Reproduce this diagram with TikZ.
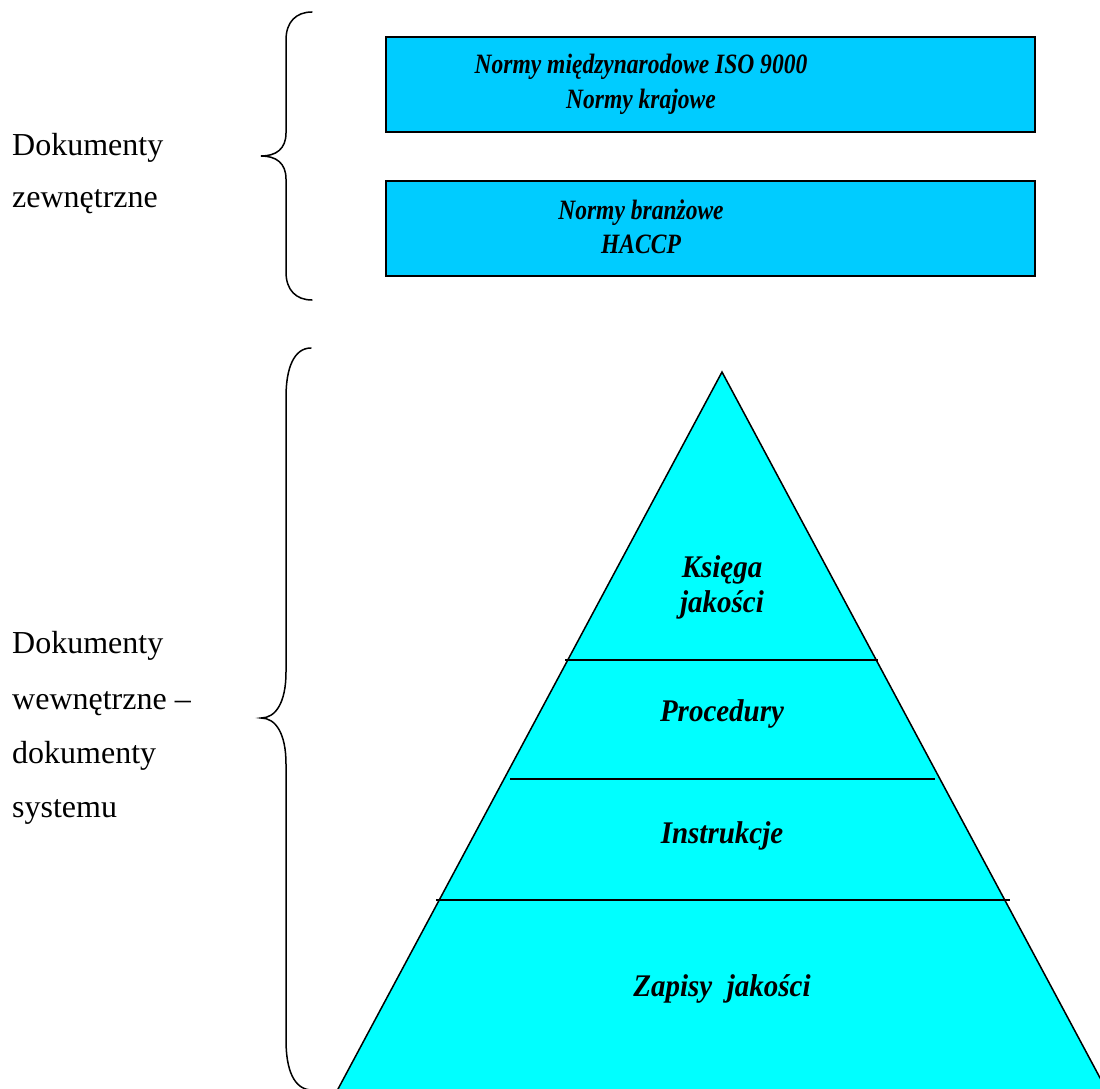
\documentclass[tikz,border=0pt]{standalone}
\usepackage{fontspec}
\usepackage{graphicx}
\setmainfont{Liberation Serif}
\definecolor{boxblue}{HTML}{00CCFF}
\definecolor{pyrcyan}{HTML}{00FFFF}
\newcommand{\boxtxt}[1]{\scalebox{0.84}[1]{#1}}
\newcommand{\pyrtxt}[1]{\scalebox{0.92}[1]{#1}}
\begin{document}
\begin{tikzpicture}[x=1pt,y=-1pt,
  normbox/.style={draw=black,line width=1.6pt,fill=boxblue,minimum width=649pt,minimum height=95pt,inner sep=0pt,anchor=north west},
  boxtext/.style={font=\fontsize{28}{34}\selectfont\bfseries\itshape,align=center,inner sep=0pt,anchor=base},
  pyrtext/.style={font=\fontsize{31.5}{35}\selectfont\bfseries\itshape,align=center,inner sep=0pt,anchor=base},
  sidetext/.style={font=\fontsize{32}{55}\selectfont,align=left,inner sep=0pt,anchor=base west},
  bracepath/.style={line width=1.5pt,line cap=round},
  divline/.style={line width=1.5pt}]
\useasboundingbox (0,0) rectangle (1100,1089);
\clip (0,0) rectangle (1100,1089);
% boxes
\node[normbox] (b1) at (385,36) {};
\node[normbox] (b2) at (385,180) {};
\node[boxtext] (t1a) at (641,74) {\boxtxt{Normy międzynarodowe ISO 9000}};
\node[boxtext] (t1b) at (641,109) {\boxtxt{Normy krajowe}};
\node[boxtext] (t2a) at (641,219) {\boxtxt{Normy branżowe}};
\node[boxtext] (t2b) at (641,253) {\boxtxt{HACCP}};
% pyramid
\coordinate (apex) at (722,372);
\coordinate (bl) at (334.8,1095);
\coordinate (br) at (1109.2,1095);
\draw[line width=1.5pt,fill=pyrcyan,line join=miter] (bl) -- (apex) -- (br);
\fill[pyrcyan] (bl) -- (br) -- (1109.2,1100) -- (334.8,1100) -- cycle;
\coordinate (l1a) at (565,660); \coordinate (l1b) at (878,660);
\coordinate (l2a) at (510,779); \coordinate (l2b) at (935,779);
\coordinate (l3a) at (436,900); \coordinate (l3b) at (1010,900);
\draw[divline] (l1a) -- (l1b);
\draw[divline] (l2a) -- (l2b);
\draw[divline] (l3a) -- (l3b);
\node[pyrtext] (p1a) at (722,577) {\pyrtxt{Księga}};
\node[pyrtext] (p1b) at (722,612) {\pyrtxt{jakości}};
\node[pyrtext] (p2) at (722,721) {\pyrtxt{Procedury}};
\node[pyrtext] (p3) at (722,843) {\pyrtxt{Instrukcje}};
\node[pyrtext] (p4) at (722,996) {\pyrtxt{Zapisy\ \ jakości}};
% braces
\draw[bracepath] (312,12) .. controls (296,12) and (286,22) .. (286,40) -- (286,133)
  .. controls (286,149) and (276,156) .. (261,156)
  .. controls (276,156) and (286,163) .. (286,179) -- (286,272)
  .. controls (286,290) and (296,300) .. (312,300);
\draw[bracepath] (311,348) .. controls (294,348) and (286,368) .. (286,397) -- (286,672)
  .. controls (286,702) and (276,718) .. (261,718)
  .. controls (276,718) and (286,734) .. (286,764) -- (286,1040)
  .. controls (286,1070) and (294,1089) .. (311,1090);
% side labels
\node[sidetext] (s1a) at (12,155) {Dokumenty};
\node[sidetext] (s1b) at (12,207) {zewnętrzne};
\node[sidetext] (s2a) at (12,653) {Dokumenty};
\node[sidetext] (s2b) at (12,709) {wewnętrzne –};
\node[sidetext] (s2c) at (12,763) {dokumenty};
\node[sidetext] (s2d) at (12,817) {systemu};
\end{tikzpicture}
\end{document}
